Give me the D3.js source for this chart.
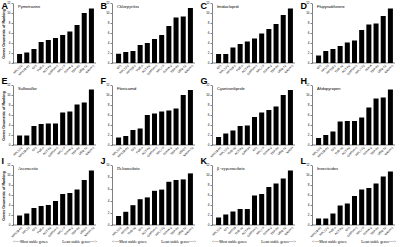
<!DOCTYPE html>
<html>
<head>
<meta charset="utf-8">
<script src="https://cdn.jsdelivr.net/npm/d3@7"></script>
<style>
  body { margin: 0; background: #fff; }
  svg { display: block; }
</style>
</head>
<body>
<div id="chart"></div>
<script>
// 面板标题与字母
const panelLetters = ['A', 'B', 'C', 'D', 'E', 'F', 'G', 'H', 'I', 'J', 'K', 'L'];
const panelTitles = ['Pymetrozine', 'Chlorpyrifos', 'Imidacloprid', 'Flupyradifurone',
    'Sulfoxaflor', 'Flonicamid', 'Cyantraniliprole', 'Afidopyropen',
    'Avermectin', 'Deltamethrin', 'β -cypermethrin', 'Insecticides'];
const serifPanels = ['B', 'I', 'J', 'K'];

// 各面板基因顺序（从最稳定到最不稳定）
const genesA = ['RPL13-2', 'RPS18-R1', 'EF1', 'TUB-α', 'ACT-R2', 'GAPDH-1', 'RPL7-F', 'SDHA-2', 'TBP-R1', 'UBQ-12', 'NADH-1'];
const genesB = ['EF1', 'RPL13-2', 'RPS18-1', 'TUB-α', 'ACT-R2', 'GAPDH-1', 'RPL7-F', 'SDHA-2', 'TBP-R1', 'UBQ-12', 'NADH-1'];
const genesC = ['EF1', 'RPL13-2', 'RPS18-1', 'TUB-α', 'ACT-R2', 'GAPDH-1', 'RPL7-F', 'SDHA-2', 'TBP-R1', 'UBQ-12', 'NADH-1'];
const genesD = ['EF1', 'RPL13', 'RPS18-1', 'TUB-α2', 'ACT-R2', 'GAPDH-1', 'RPL7-F2', 'SDHA', 'TBP-R1', 'UBQ-12', 'NADH-1'];
const genesE = ['RPL13-2', 'RPS18-R1', 'EF1', 'TUB-α', 'ACT-R2', 'GAPDH-1', 'RPL7-F', 'SDHA-2', 'TBP-R1', 'UBQ-12', 'NADH-1'];
const genesF = ['RPL13-2', 'RPS18-R1', 'EF1', 'TUB-α', 'ACT-R2', 'GAPDH-1', 'RPL7-F', 'SDHA-2', 'TBP-R1', 'UBQ-1', 'NADH-12'];
const genesG = ['RPS18-R1', 'RPL13-2', 'TUB-α2', 'ACT-R2', 'GAPDH', 'EF1', 'RPL7-F', 'SDHA-2', 'TBP-R1', 'UBQ-12', 'NADH'];
const genesH = ['RPL13-2', 'RPS18-R1', 'EF1', 'TUB-α2', 'ACT-R2', 'GAPDH-1', 'RPL7-F2', 'SDHA-2', 'TBP-R1', 'UBQ-12', 'NADH-1'];
const genesI = ['RPS18-R1', 'RPL13', 'EF1', 'TUB-α', 'ACT-R2', 'GAPDH-1', 'RPL7-F', 'SDHA-2', 'TBP-R1', 'UBQ-1', 'NADH-12'];
const genesJ = ['RPL13-2', 'RPS18', 'TUB-α2', 'EF1', 'ACT-R2', 'GAPDH-1', 'RPL7-F2', 'SDHA-2', 'TBP-R1', 'UBQ-12', 'NADH-1'];
const genesK = ['RPL13-2', 'EF1', 'RPS18', 'TUB-α2', 'ACT-R2', 'GAPDH-1', 'RPL7-F', 'SDHA-2', 'TBP-R1', 'UBQ-12', 'NADH-1'];
const genesL = ['RPS18-R1', 'RPL13-2', 'TUB-α', 'ACT-R2', 'EF1', 'GAPDH-1', 'RPL7-F', 'SDHA-2', 'TBP-R1', 'UBQ-12', 'NADH-1'];

// 各面板几何平均排名
const valuesA = [1.8, 2.1, 2.8, 4.2, 4.6, 5.0, 5.6, 6.3, 7.6, 10.0, 10.9];
const valuesB = [1.85, 2.2, 2.4, 3.6, 4.0, 4.8, 5.6, 7.4, 9.1, 9.3, 11.0];
const valuesC = [1.8, 1.8, 3.1, 3.8, 4.3, 4.9, 5.9, 6.8, 7.8, 9.6, 10.9];
const valuesD = [1.5, 2.4, 2.8, 3.4, 4.1, 4.5, 6.6, 7.7, 7.9, 9.4, 10.9];
const valuesE = [1.9, 1.9, 3.8, 4.2, 4.3, 4.3, 6.5, 6.7, 8.1, 8.5, 11.1];
const valuesF = [1.5, 1.8, 3.0, 3.3, 6.0, 6.3, 6.7, 6.9, 7.3, 10.0, 11.0];
const valuesG = [1.6, 2.3, 2.9, 3.8, 3.9, 5.6, 6.5, 7.0, 7.7, 10.0, 11.0];
const valuesH = [1.4, 2.0, 2.7, 4.7, 4.8, 4.8, 5.5, 7.5, 9.3, 9.5, 11.1];
const valuesI = [1.9, 2.3, 3.4, 3.8, 4.0, 4.8, 6.2, 6.4, 7.1, 9.0, 10.9];
const valuesJ = [1.5, 2.2, 3.3, 4.3, 4.6, 5.7, 5.9, 7.2, 7.5, 7.6, 8.6];
const valuesK = [1.5, 2.1, 2.7, 3.2, 3.2, 5.9, 6.2, 7.6, 8.3, 9.3, 10.9];
const valuesL = [1.3, 1.3, 2.3, 3.9, 4.3, 5.8, 7.1, 7.4, 8.3, 9.7, 10.7];

const yMaxes = [12, 12, 12, 12, 12, 12, 12, 12, 12, 10, 12, 12];

const allGenes = [genesA, genesB, genesC, genesD, genesE, genesF, genesG, genesH, genesI, genesJ, genesK, genesL];
const allValues = [valuesA, valuesB, valuesC, valuesD, valuesE, valuesF, valuesG, valuesH, valuesI, valuesJ, valuesK, valuesL];

const width = 400, height = 247;
const rowOffsets = [0, 82, 162];

const svg = d3.select('#chart')
    .append('svg')
    .attr('width', width)
    .attr('height', height);

allValues.forEach((vals, i) => {
    const col = i % 4, row = Math.floor(i / 4);
    const ox = col * 100 + (col === 0 ? 0 : -1), oy = rowOffsets[row];
    const axisX = ox + 13;
    const data = allGenes[i].map((g, k) => ({gene: g, value: vals[k]}));

    const x = d3.scaleBand()
        .domain(allGenes[i])
        .range([axisX + 3, ox + 95])
        .paddingInner(0.3)
        .paddingOuter(0.15);
    const y = d3.scaleLinear()
        .domain([0, yMaxes[i]])
        .range([oy + 63, oy + 3]);

    const g = svg.append('g');

    // 柱子
    g.selectAll('rect')
        .data(data)
        .enter()
        .append('rect')
        .attr('x', d => x(d.gene))
        .attr('y', d => y(d.value))
        .attr('width', x.bandwidth())
        .attr('height', d => y(0) - y(d.value))
        .attr('fill', '#000');

    // y 轴
    const yAxis = g.append('g')
        .attr('transform', `translate(${axisX},0)`)
        .call(d3.axisLeft(y).ticks(yMaxes[i] / 2).tickSize(1.5).tickPadding(1).tickSizeOuter(0));
    yAxis.selectAll('text').style('font-size', '3px').style('font-family', 'Arial, sans-serif');
    yAxis.select('.domain').attr('stroke-width', 0.5);
    yAxis.selectAll('.tick line').attr('stroke-width', 0.5);

    // x 轴
    const xAxis = g.append('g')
        .attr('transform', `translate(0,${y(0)})`)
        .call(d3.axisBottom(x).tickSize(0).tickPadding(1.5));
    xAxis.select('.domain').attr('d', `M${axisX},0H${ox + 96}`).attr('stroke-width', 0.5);
    xAxis.selectAll('text')
        .style('font-size', '3px')
        .style('font-family', 'Arial, sans-serif')
        .attr('text-anchor', 'end')
        .attr('dy', '0.3em')
        .attr('transform', 'translate(1.5,1) rotate(-45)');

    // 面板标题
    const serif = serifPanels.includes(panelLetters[i]);
    g.append('text')
        .attr('x', axisX + 5)
        .attr('y', oy + 8)
        .style('font-size', serif ? '4.3px' : '4px')
        .style('font-family', serif ? '"Liberation Serif", serif' : 'Arial, sans-serif')
        .text(panelTitles[i]);

    // 面板字母
    g.append('text')
        .attr('x', ox + 1.5)
        .attr('y', row === 0 ? 9 : oy + 2)
        .style('font-size', '9px')
        .style('font-weight', 'bold')
        .style('font-family', 'Arial, sans-serif')
        .text(panelLetters[i]);

    // y 轴标题（仅第一列）
    if (col === 0) {
        g.append('text')
            .attr('transform', `translate(${ox + 5},${oy + 34}) rotate(-90)`)
            .attr('text-anchor', 'middle')
            .style('font-size', '3.6px')
            .style('font-weight', 'bold')
            .style('font-family', 'Arial, sans-serif')
            .text('Genes Geometric of Ranking');
    }

    // 底行稳定性说明
    if (row === 2) {
        g.append('text')
            .attr('x', ox + 13)
            .attr('y', 242.5)
            .style('font-size', '3.8px')
            .style('font-family', '"Liberation Serif", serif')
            .text('<----Most stable genes');
        g.append('text')
            .attr('x', ox + 97)
            .attr('y', 242.5)
            .attr('text-anchor', 'end')
            .style('font-size', '3.8px')
            .style('font-family', '"Liberation Serif", serif')
            .text('Least stable genes---->');
    }
});
</script>
</body>
</html>
